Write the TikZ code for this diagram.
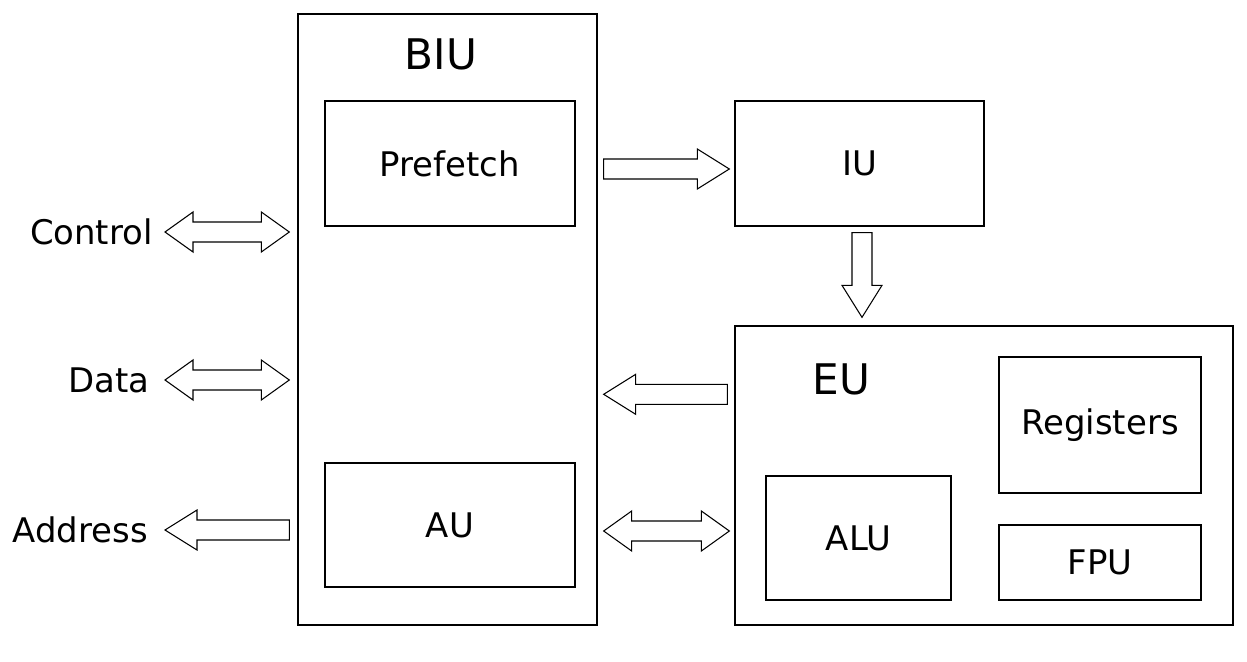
\documentclass[tikz,border=0pt]{standalone}
\usepackage{fontspec}
\setmainfont{DejaVu Sans}
\usetikzlibrary{calc}
\tikzset{
  box/.style={draw, line width=0.8pt, inner sep=0pt},
  lbl/.style={font=\fontsize{19.3}{23}\selectfont},
  title/.style={font=\fontsize{24}{29}\selectfont},
  % hollow block arrows between two named points
  fat arrow/.style={draw, line width=0.6pt, to path={
      ($(\tikztotarget)!0.64cm!(\tikztostart)$) coordinate (hd)
      ($(\tikztostart)!0.2cm!90:(\tikztotarget)$)
      -- ($(hd)!0.2cm!90:(\tikztotarget)$)
      -- ($(hd)!0.4cm!90:(\tikztotarget)$)
      -- (\tikztotarget)
      -- ($(hd)!0.4cm!-90:(\tikztotarget)$)
      -- ($(hd)!0.2cm!-90:(\tikztotarget)$)
      -- ($(\tikztostart)!0.2cm!-90:(\tikztotarget)$)
      -- cycle}},
  fat double/.style={draw, line width=0.6pt, to path={
      ($(\tikztostart)!0.56cm!(\tikztotarget)$) coordinate (hs)
      ($(\tikztotarget)!0.56cm!(\tikztostart)$) coordinate (ht)
      (\tikztostart)
      -- ($(hs)!0.4cm!90:(\tikztotarget)$)
      -- ($(hs)!0.2cm!90:(\tikztotarget)$)
      -- ($(ht)!0.2cm!90:(\tikztotarget)$)
      -- ($(ht)!0.4cm!90:(\tikztotarget)$)
      -- (\tikztotarget)
      -- ($(ht)!0.4cm!-90:(\tikztotarget)$)
      -- ($(ht)!0.2cm!-90:(\tikztotarget)$)
      -- ($(hs)!0.2cm!-90:(\tikztotarget)$)
      -- ($(hs)!0.4cm!-90:(\tikztotarget)$)
      -- cycle}}
}
\begin{document}
\begin{tikzpicture}[x=0.02cm, y=-0.02cm]
  \useasboundingbox (0,0) rectangle (1247,662);

  % bus interface unit
  \node[box, minimum width=5.98cm, minimum height=12.22cm] (biu) at (447.5,319.5) {};
  \node[title] (biut) at ([xshift=-0.13cm,yshift=-0.82cm]biu.north) {BIU};
  \node[box, lbl, minimum width=5cm, minimum height=2.5cm] (pre) at (450,163.5) {Prefetch};
  \node[box, lbl, minimum width=5cm, minimum height=2.48cm] (au) at (450,525) {AU};

  % instruction and execution units
  \node[box, lbl, minimum width=4.98cm, minimum height=2.5cm] (iu) at (859.5,163.5) {IU};
  \node[box, minimum width=9.96cm, minimum height=5.98cm] (eu) at (984,475.5) {};
  \node[title] (eut) at ([xshift=2.14cm,yshift=-1.08cm]eu.north west) {EU};
  \node[box, lbl, minimum width=4.04cm, minimum height=2.72cm] (reg) at (1100,425) {Registers};
  \node[box, lbl, minimum width=4.04cm, minimum height=1.5cm] (fpu) at (1100,562.5) {FPU};
  \node[box, lbl, minimum width=3.7cm, minimum height=2.48cm] (alu) at (858.5,538) {ALU};

  % bus lines
  \node[lbl, anchor=east, inner sep=0pt] (ctl) at (153,232) {Control};
  \node[lbl, anchor=east, inner sep=0pt] (dat) at (150,380) {Data};
  \node[lbl, anchor=east, inner sep=0pt] (adr) at (148,530) {Address};

  \coordinate (ctlA) at ([xshift=0.24cm]ctl.east);
  \coordinate (ctlB) at ([xshift=-0.16cm]biu.west |- ctlA);
  \coordinate (datA) at ([xshift=0.3cm]dat.east);
  \coordinate (datB) at ([xshift=-0.16cm]biu.west |- datA);
  \coordinate (adrA) at ([xshift=0.34cm]adr.east);
  \coordinate (adrB) at ([xshift=-0.16cm]biu.west |- adrA);
  \coordinate (preA) at ([xshift=0.12cm,yshift=-0.11cm]biu.east |- pre.east);
  \coordinate (preB) at ([xshift=-0.1cm]iu.west |- preA);
  \coordinate (iuA) at ([xshift=0.05cm,yshift=-0.12cm]iu.south);
  \coordinate (iuB) at ([yshift=0.16cm]eu.north -| iuA);
  \coordinate (euA) at ([xshift=-0.14cm,yshift=-1.38cm]eu.north west);
  \coordinate (euB) at ([xshift=0.12cm]biu.east |- euA);
  \coordinate (auA) at ([xshift=0.56cm,yshift=-0.12cm]au.east);
  \coordinate (auB) at ([xshift=-0.1cm]eu.west |- auA);

  \draw[fat double] (ctlA) to (ctlB);
  \draw[fat double] (datA) to (datB);
  \draw[fat arrow]  (adrB) to (adrA);
  \draw[fat arrow]  (preA) to (preB);
  \draw[fat arrow]  (iuA) to (iuB);
  \draw[fat arrow]  (euA) to (euB);
  \draw[fat double] (auA) to (auB);
\end{tikzpicture}
\end{document}
